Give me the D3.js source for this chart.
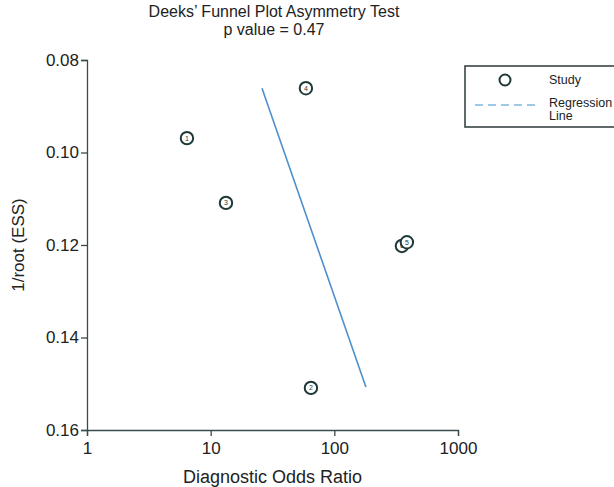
<!DOCTYPE html>
<html>
<head>
<meta charset="utf-8">
<script src="https://cdn.jsdelivr.net/npm/d3@7"></script>
<style>
  body { margin: 0; background: #fff; }
  svg { font-family: "Liberation Sans", Arial, sans-serif; }
</style>
</head>
<body>
<div id="chart"></div>
<script>
// study data
const studyIds = [1, 2, 3, 4, 6, 5];
const dor = [6.43, 64.7, 13.3, 58.9, 352, 386];
const invRootEss = [0.0969, 0.1509, 0.1109, 0.0861, 0.1202, 0.1194];

// regression line end points
const regDor = [26.0, 180];
const regY = [0.0861, 0.1507];

const xTicks = [1, 10, 100, 1000];
const yTicks = [0.08, 0.10, 0.12, 0.14, 0.16];

const width = 614, height = 487;
const margin = { top: 60, right: 156, bottom: 57, left: 87 };
const axisColor = '#3a4b4b';

const svg = d3.select('#chart')
  .append('svg')
    .attr('width', width)
    .attr('height', height);

const x = d3.scaleLog()
  .domain([1, 1000])
  .range([margin.left, width - margin.right]);

const y = d3.scaleLinear()
  .domain([0.08, 0.16])
  .range([margin.top, height - margin.bottom]);

// axes
const xAxis = svg.append('g')
  .attr('transform', `translate(0,${height - margin.bottom})`)
  .call(d3.axisBottom(x).tickValues(xTicks).tickFormat(d3.format('d')).tickSizeOuter(0).tickSize(6));

const yAxis = svg.append('g')
  .attr('transform', `translate(${margin.left},0)`)
  .call(d3.axisLeft(y).tickValues(yTicks).tickFormat(d3.format('.2f')).tickSizeOuter(0).tickSize(6));

[xAxis, yAxis].forEach(g => {
  g.selectAll('path, line').attr('stroke', axisColor).attr('stroke-width', 1.3);
  g.selectAll('text').attr('fill', '#222').style('font-size', '17px');
});
xAxis.selectAll('text').attr('dy', '0.9em');
yAxis.selectAll('text').attr('x', -8);

// regression line
svg.append('path')
  .datum(regDor.map((d, i) => [d, regY[i]]))
  .attr('fill', 'none')
  .attr('stroke', '#4f8fcc')
  .attr('stroke-width', 1.6)
  .attr('d', d3.line().x(d => x(d[0])).y(d => y(d[1])));

// study points
const pts = svg.append('g')
  .selectAll('g')
  .data(studyIds.map((id, i) => ({ id, dor: dor[i], v: invRootEss[i] })))
  .enter()
  .append('g')
    .attr('transform', d => `translate(${x(d.dor)},${y(d.v)})`);

pts.append('circle')
  .attr('r', 6.2)
  .attr('fill', '#fff')
  .attr('stroke', '#1f3838')
  .attr('stroke-width', 2);

pts.append('text')
  .attr('text-anchor', 'middle')
  .attr('dy', '0.35em')
  .style('font-size', '7px')
  .attr('fill', '#2a3a3a')
  .text(d => d.id);

// title
svg.append('text')
  .attr('x', 274).attr('y', 17)
  .attr('text-anchor', 'middle')
  .style('font-size', '16px')
  .attr('fill', '#222')
  .text('Deeks\u2019 Funnel Plot Asymmetry Test');

svg.append('text')
  .attr('x', 274).attr('y', 35)
  .attr('text-anchor', 'middle')
  .style('font-size', '16px')
  .attr('fill', '#222')
  .text('p value = 0.47');

// axis labels
svg.append('text')
  .attr('x', (x.range()[0] + x.range()[1]) / 2)
  .attr('y', 483)
  .attr('text-anchor', 'middle')
  .style('font-size', '18px')
  .attr('fill', '#222')
  .text('Diagnostic Odds Ratio');

svg.append('text')
  .attr('transform', `translate(24,${(y.range()[0] + y.range()[1]) / 2}) rotate(-90)`)
  .attr('text-anchor', 'middle')
  .style('font-size', '17px')
  .attr('fill', '#222')
  .text('1/root (ESS)');

// legend
const legend = svg.append('g').attr('transform', 'translate(465,66)');
legend.append('rect')
  .attr('width', 160).attr('height', 61)
  .attr('fill', 'none')
  .attr('stroke', '#3a4545')
  .attr('stroke-width', 1.6);

legend.append('circle')
  .attr('cx', 40).attr('cy', 14).attr('r', 5.5)
  .attr('fill', '#fff')
  .attr('stroke', '#1f3838')
  .attr('stroke-width', 2);

legend.append('line')
  .attr('x1', 10).attr('x2', 74)
  .attr('y1', 39).attr('y2', 39)
  .attr('stroke', '#7db7e0')
  .attr('stroke-width', 1.5)
  .attr('stroke-dasharray', '8,5');

const legText = legend.append('g')
  .style('font-size', '12.5px')
  .attr('fill', '#222');
legText.append('text').attr('x', 84).attr('y', 18).text('Study');
legText.append('text').attr('x', 84).attr('y', 41).text('Regression');
legText.append('text').attr('x', 84).attr('y', 54).text('Line');
</script>
</body>
</html>
